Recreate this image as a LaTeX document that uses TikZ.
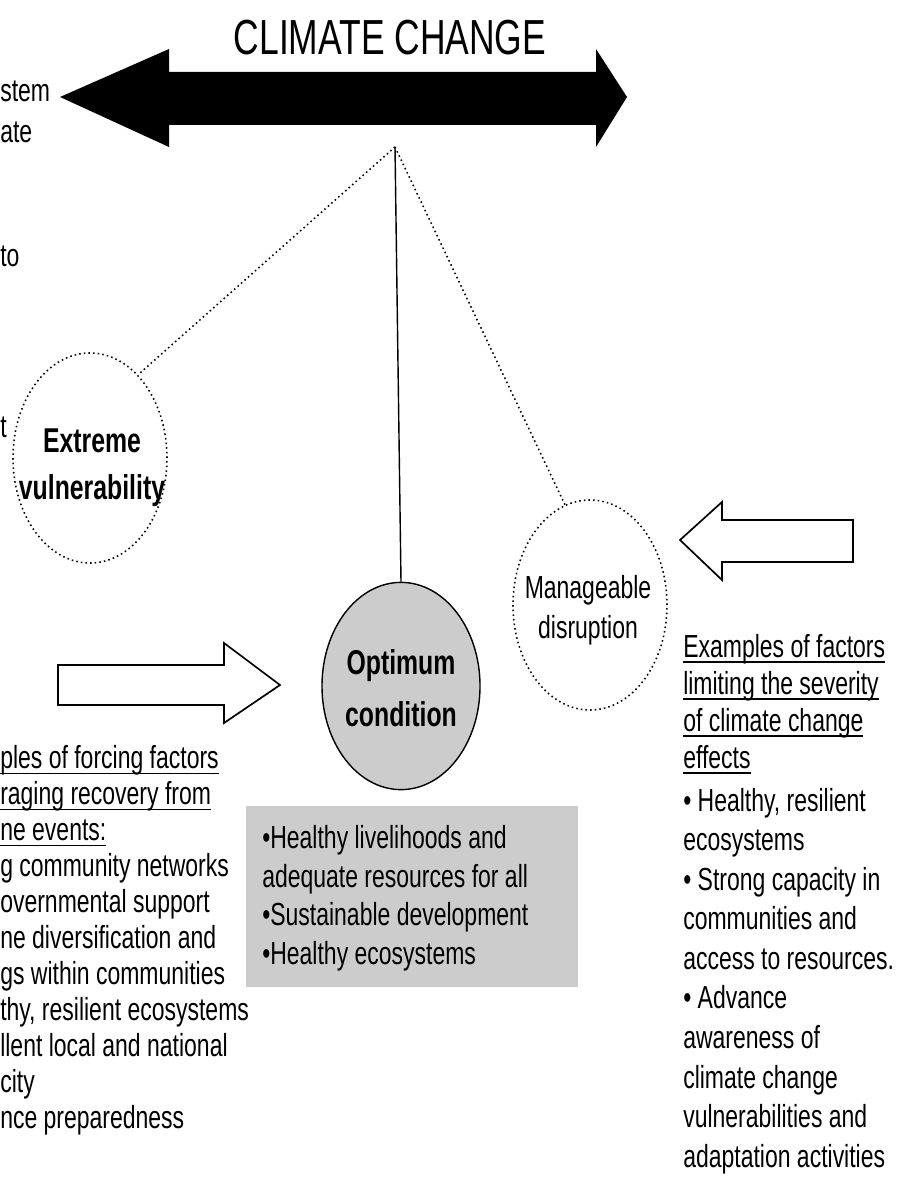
\documentclass[tikz,border=0pt]{standalone}
\usepackage{fontspec}
\setmainfont{Liberation Sans}[FakeStretch=0.72]
\usetikzlibrary{shapes.geometric}

% underline with a thicker rule
\newcommand{\undl}[1]{\setbox0=\hbox{#1}\rlap{\rule[-4.2pt]{\wd0}{1.3pt}}\box0}

\tikzset{
  frag/.style={inner sep=0pt, anchor=base west, font=\fontsize{22.7}{26}\selectfont},
  notes/.style={inner sep=0pt, anchor=north west, align=left},
  bubble/.style={ellipse, minimum width=3.85cm, minimum height=5.25cm, inner sep=0pt},
  hollow/.style={draw, line width=1.2pt, fill=white},
  links/.style={dash pattern=on 1.1pt off 2.2pt, line width=1.1pt},
}

\begin{document}
\begin{tikzpicture}[x=0.025cm,y=-0.025cm]
        \useasboundingbox (0,0) rectangle (906,1188);

        % Title and double arrow
        \node[anchor=base, font=\fontsize{35}{40}\selectfont] (title) at (390,55) {CLIMATE CHANGE};
        \fill (60,97) -- (169,49) -- (169,72) -- (596,72) -- (596,49) -- (627,97)
              -- (596,147) -- (596,125) -- (169,125) -- (169,147) -- cycle;

        % Cut-off text on the left
        \node[frag] (frag1) at (0,102) {stem};
        \node[frag] (frag2) at (0,143) {ate};
        \node[frag] (frag3) at (0,267) {to};
        \node[frag] (frag4) at (0,437) {t};

        % The three states
        \node[bubble, draw, links] (ext) at (90,458) {};
        \node[bubble, draw, line width=1pt, fill=black!20, minimum width=3.95cm, minimum height=5.18cm] (opt) at (401,686) {};
        \node[bubble, draw, links] (mng) at (590,605) {};

        \node[align=center, font=\bfseries\fontsize{24.5}{33.3}\selectfont] (ext-txt) at (92,468) {Extreme\\vulnerability};
        \node[align=center, font=\bfseries\fontsize{24.5}{37}\selectfont] (opt-txt) at (401,688) {Optimum\\condition};
        \node[align=center, font=\fontsize{22.7}{28.5}\selectfont] (mng-txt) at (588,610) {Manageable\\disruption};

        % Pendulum lines
        \coordinate (apex) at (395,147);
        \draw[line width=1pt] (apex) -- (opt.north);
        \draw[links] (apex) -- (ext.60);
        \draw[links] (apex) -- (mng.104);

        % Hollow arrows
        \draw[hollow] (58,665) -- (224,665) -- (224,643) -- (280,685) -- (224,723) -- (224,705) -- (58,705) -- cycle;
        \draw[hollow] (853,520) -- (722,520) -- (722,502) -- (680,540) -- (722,580) -- (722,562) -- (853,562) -- cycle;

        % Grey box under the optimum
        \fill[black!20] (246,806) rectangle (578,987);
        \node[notes, font=\fontsize{22.7}{27.5}\selectfont] (goals) at (262,825)
            {•Healthy livelihoods and\\adequate resources for all\\•Sustainable development\\•Healthy ecosystems};

        % Forcing factors (left)
        \node[notes, font=\fontsize{22.7}{25.6}\selectfont] (forcing) at (0,745)
            {\undl{ples of forcing factors}\\ \undl{raging recovery from}\\ \undl{ne events:}\\
             g community networks\\ overnmental support\\ ne diversification and\\ gs within communities\\
             thy, resilient ecosystems\\ llent local and national\\ city\\ nce preparedness};

        % Limiting factors (right)
        \node[notes, font=\fontsize{22.7}{26.3}\selectfont] (limit-head) at (683,634)
            {\undl{Examples of factors}\\ \undl{limiting the severity}\\ \undl{of climate change}\\ \undl{effects}};
        \node[notes, font=\fontsize{22.7}{28.1}\selectfont] (limit-list) at (683,788)
            {• Healthy, resilient\\ ecosystems\\ • Strong capacity in\\ communities and\\ access to resources.\\
             • Advance\\ awareness of\\ climate change\\ vulnerabilities and\\ adaptation activities};
    \end{tikzpicture}
\end{document}
